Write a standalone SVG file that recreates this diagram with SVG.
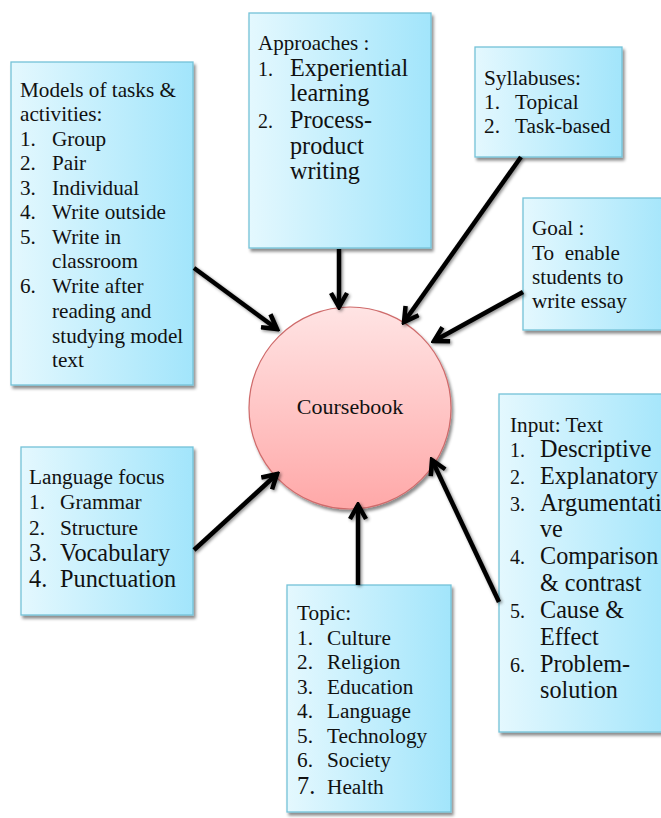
<svg xmlns="http://www.w3.org/2000/svg" width="661" height="818" viewBox="0 0 661 818">
<defs>
<linearGradient id="boxg" x1="0" y1="0" x2="1" y2="0">
<stop offset="0" stop-color="#e4f8fe"/>
<stop offset="1" stop-color="#a2e5fb"/>
</linearGradient>
<linearGradient id="circg" x1="0" y1="0" x2="0" y2="1">
<stop offset="0" stop-color="#ffe4e4"/>
<stop offset="1" stop-color="#ffa8a8"/>
</linearGradient>
<filter id="sh" x="-10%" y="-10%" width="130%" height="130%">
<feDropShadow dx="2" dy="3" stdDeviation="1.5" flood-color="#000" flood-opacity="0.45"/>
</filter>
<filter id="lsh" x="-20%" y="-20%" width="140%" height="140%">
<feDropShadow dx="1.5" dy="1.5" stdDeviation="1.5" flood-color="#000" flood-opacity="0.45"/>
</filter>
<marker id="ah" viewBox="0 0 20 20" markerUnits="userSpaceOnUse" markerWidth="20" markerHeight="20" refX="17" refY="10" orient="auto">
<path d="M3,2 L17,10 L3,18" fill="none" stroke="#000" stroke-width="4.5" stroke-linejoin="miter"/>
</marker>
</defs>
<style>
.box{fill:url(#boxg);stroke:#74c2d8;stroke-width:1.3;filter:url(#sh)}
.c{stroke:#000;stroke-width:4.5;fill:none;marker-end:url(#ah)}
</style>

<g id="coursebook" fill="#111">
<circle cx="350" cy="408" r="101" fill="url(#circg)" stroke="#cf6b6b" stroke-width="1.2" filter="url(#sh)"/>
<text x="350" y="414" text-anchor="middle" font-family="Liberation Serif, serif" font-size="22">Coursebook</text>
</g>

<g id="models" fill="#111">
<rect class="box" x="11" y="62" width="182" height="323"/>
<text font-family="Liberation Serif, serif" font-size="21.2" x="20" y="97">Models of tasks &amp;</text>
<text font-family="Liberation Serif, serif" font-size="21.2" x="20" y="121">activities:</text>
<text font-family="Liberation Serif, serif" font-size="21.2" x="20" y="146">1.</text><text font-family="Liberation Serif, serif" font-size="21.2" x="52" y="146">Group</text>
<text font-family="Liberation Serif, serif" font-size="21.2" x="20" y="170">2.</text><text font-family="Liberation Serif, serif" font-size="21.2" x="52" y="170">Pair</text>
<text font-family="Liberation Serif, serif" font-size="21.2" x="20" y="195">3.</text><text font-family="Liberation Serif, serif" font-size="21.2" x="52" y="195">Individual</text>
<text font-family="Liberation Serif, serif" font-size="21.2" x="20" y="219">4.</text><text font-family="Liberation Serif, serif" font-size="21.2" x="52" y="219">Write outside</text>
<text font-family="Liberation Serif, serif" font-size="21.2" x="20" y="244">5.</text><text font-family="Liberation Serif, serif" font-size="21.2" x="52" y="244">Write in</text>
<text font-family="Liberation Serif, serif" font-size="21.2" x="52" y="268">classroom</text>
<text font-family="Liberation Serif, serif" font-size="21.2" x="20" y="293">6.</text><text font-family="Liberation Serif, serif" font-size="21.2" x="52" y="293">Write after</text>
<text font-family="Liberation Serif, serif" font-size="21.2" x="52" y="318">reading and</text>
<text font-family="Liberation Serif, serif" font-size="21.2" x="52" y="343">studying model</text>
<text font-family="Liberation Serif, serif" font-size="21.2" x="52" y="367">text</text>
</g>

<g id="approaches" fill="#111">
<rect class="box" x="249" y="13" width="182" height="235"/>
<text font-family="Liberation Serif, serif" font-size="21" x="258" y="50">Approaches :</text>
<text font-family="Liberation Serif, serif" font-size="20" x="258" y="76">1.</text><text font-family="Liberation Serif, serif" font-size="24.2" x="290" y="76">Experiential</text>
<text font-family="Liberation Serif, serif" font-size="24.2" x="290" y="101">learning</text>
<text font-family="Liberation Serif, serif" font-size="20" x="258" y="128">2.</text><text font-family="Liberation Serif, serif" font-size="24.2" x="290" y="128">Process-</text>
<text font-family="Liberation Serif, serif" font-size="24.2" x="290" y="154">product</text>
<text font-family="Liberation Serif, serif" font-size="24.2" x="290" y="179">writing</text>
</g>

<g id="syllabuses" fill="#111">
<rect class="box" x="475" y="47" width="147" height="110"/>
<text font-family="Liberation Serif, serif" font-size="21.3" x="484" y="85">Syllabuses:</text>
<text font-family="Liberation Serif, serif" font-size="21.3" x="484" y="109">1.</text><text font-family="Liberation Serif, serif" font-size="21.3" x="515" y="109">Topical</text>
<text font-family="Liberation Serif, serif" font-size="21.3" x="484" y="133">2.</text><text font-family="Liberation Serif, serif" font-size="21.3" x="515" y="133">Task-based</text>
</g>

<g id="goal" fill="#111">
<rect class="box" x="523" y="198" width="150" height="132"/>
<text font-family="Liberation Serif, serif" font-size="21.2" x="532" y="235">Goal :</text>
<text font-family="Liberation Serif, serif" font-size="21.2" x="532" y="260" xml:space="preserve">To  enable</text>
<text font-family="Liberation Serif, serif" font-size="21.2" x="532" y="284">students to</text>
<text font-family="Liberation Serif, serif" font-size="21.2" x="532" y="308">write essay</text>
</g>

<g id="language-focus" fill="#111">
<rect class="box" x="21" y="447" width="172" height="168"/>
<text font-family="Liberation Serif, serif" font-size="21.3" x="29" y="484">Language focus</text>
<text font-family="Liberation Serif, serif" font-size="21.3" x="29" y="509">1.</text><text font-family="Liberation Serif, serif" font-size="21.3" x="60" y="509">Grammar</text>
<text font-family="Liberation Serif, serif" font-size="21.3" x="29" y="535">2.</text><text font-family="Liberation Serif, serif" font-size="21.3" x="60" y="535">Structure</text>
<text font-family="Liberation Serif, serif" font-size="24.3" x="29" y="561">3.</text><text font-family="Liberation Serif, serif" font-size="24.3" x="60" y="561">Vocabulary</text>
<text font-family="Liberation Serif, serif" font-size="24.3" x="29" y="587">4.</text><text font-family="Liberation Serif, serif" font-size="24.3" x="60" y="587">Punctuation</text>
</g>

<g id="topic" fill="#111">
<rect class="box" x="287" y="585" width="164" height="227"/>
<text font-family="Liberation Serif, serif" font-size="21.3" x="297" y="620">Topic:</text>
<text font-family="Liberation Serif, serif" font-size="21.3" x="297" y="645">1.</text><text font-family="Liberation Serif, serif" font-size="21.3" x="327" y="645">Culture</text>
<text font-family="Liberation Serif, serif" font-size="21.3" x="297" y="669">2.</text><text font-family="Liberation Serif, serif" font-size="21.3" x="327" y="669">Religion</text>
<text font-family="Liberation Serif, serif" font-size="21.3" x="297" y="694">3.</text><text font-family="Liberation Serif, serif" font-size="21.3" x="327" y="694">Education</text>
<text font-family="Liberation Serif, serif" font-size="21.3" x="297" y="718">4.</text><text font-family="Liberation Serif, serif" font-size="21.3" x="327" y="718">Language</text>
<text font-family="Liberation Serif, serif" font-size="21.3" x="297" y="743">5.</text><text font-family="Liberation Serif, serif" font-size="21.3" x="327" y="743">Technology</text>
<text font-family="Liberation Serif, serif" font-size="21.3" x="297" y="767">6.</text><text font-family="Liberation Serif, serif" font-size="21.3" x="327" y="767">Society</text>
<text font-family="Liberation Serif, serif" font-size="24.3" x="297" y="794">7.</text><text font-family="Liberation Serif, serif" font-size="21.3" x="327" y="794">Health</text>
</g>

<g id="input-text" fill="#111">
<rect class="box" x="499" y="394" width="175" height="338"/>
<text font-family="Liberation Serif, serif" font-size="21.2" x="510" y="432">Input: Text</text>
<text font-family="Liberation Serif, serif" font-size="20" x="510" y="457">1.</text><text font-family="Liberation Serif, serif" font-size="24.2" x="540" y="457">Descriptive</text>
<text font-family="Liberation Serif, serif" font-size="20" x="510" y="484">2.</text><text font-family="Liberation Serif, serif" font-size="24.2" x="540" y="484">Explanatory</text>
<text font-family="Liberation Serif, serif" font-size="20" x="510" y="511">3.</text><text font-family="Liberation Serif, serif" font-size="24.2" x="540" y="511">Argumentati</text>
<text font-family="Liberation Serif, serif" font-size="24.2" x="540" y="537">ve</text>
<text font-family="Liberation Serif, serif" font-size="20" x="510" y="564">4.</text><text font-family="Liberation Serif, serif" font-size="24.2" x="540" y="564">Comparison</text>
<text font-family="Liberation Serif, serif" font-size="24.2" x="540" y="591">&amp; contrast</text>
<text font-family="Liberation Serif, serif" font-size="20" x="510" y="618">5.</text><text font-family="Liberation Serif, serif" font-size="24.2" x="540" y="618">Cause &amp;</text>
<text font-family="Liberation Serif, serif" font-size="24.2" x="540" y="645">Effect</text>
<text font-family="Liberation Serif, serif" font-size="20" x="510" y="672">6.</text><text font-family="Liberation Serif, serif" font-size="24.2" x="540" y="672">Problem-</text>
<text font-family="Liberation Serif, serif" font-size="24.2" x="540" y="698">solution</text>
</g>

<g id="connectors" filter="url(#lsh)">
<line class="c" x1="194" y1="268" x2="277" y2="329"/>
<line class="c" x1="339" y1="249" x2="339" y2="307"/>
<line class="c" x1="521" y1="157" x2="404" y2="322"/>
<line class="c" x1="523" y1="292" x2="434" y2="341"/>
<line class="c" x1="194" y1="550" x2="277" y2="474"/>
<line class="c" x1="358" y1="585" x2="358" y2="505"/>
<line class="c" x1="499" y1="602" x2="432" y2="460"/>
</g>
</svg>
